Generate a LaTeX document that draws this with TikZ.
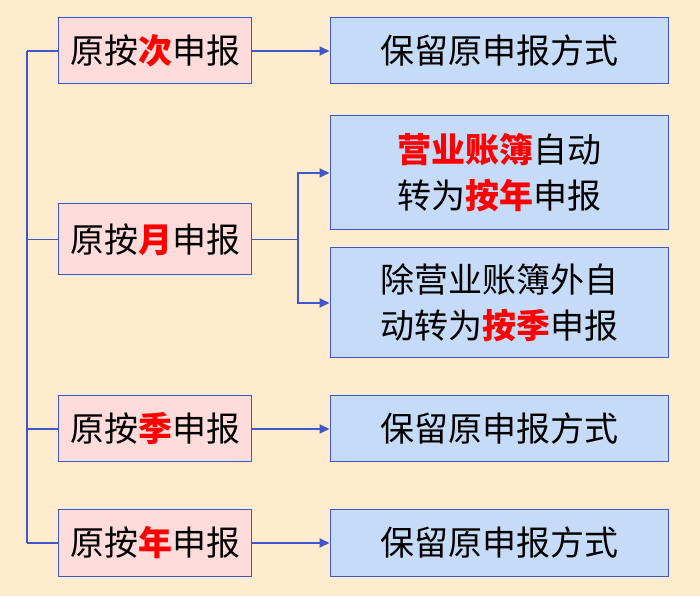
\documentclass[tikz,border=0pt]{standalone}
\usepackage{fontspec}
\setmainfont{Noto Sans CJK SC}
\usetikzlibrary{arrows.meta}
\definecolor{bg}{HTML}{FFEBCD}
\definecolor{pinkf}{HTML}{FFDCDC}
\definecolor{bluef}{HTML}{C6DBF8}
\definecolor{lin}{HTML}{3F56CC}
\newcommand{\hl}[1]{{\bfseries\color{red}#1}}
\tikzset{
 lbox/.style={draw=lin,line width=1pt,fill=pinkf,minimum width=193pt,minimum height=66pt,inner sep=0pt,font=\fontsize{34pt}{40pt}\selectfont},
 rbox/.style={draw=lin,line width=1pt,fill=bluef,minimum width=338pt,inner sep=0pt,align=center,font=\fontsize{34pt}{46pt}\selectfont},
 conn/.style={lin,line width=1.8pt},
 arr/.style={conn,-{Triangle[length=10pt,width=9pt]}}
}
\begin{document}
\begin{tikzpicture}[x=1pt,y=1pt]
\fill[bg] (0,0) rectangle (700,596);
\useasboundingbox (0,0) rectangle (700,596);
\node[lbox] (l1) at (155,545) {原按\hl{次}申报};
\node[lbox,minimum height=71pt] (l2) at (155,356.5) {原按\hl{月}申报};
\node[lbox] (l3) at (155,167) {原按\hl{季}申报};
\node[lbox] (l4) at (155,53) {原按\hl{年}申报};
\node[rbox,minimum height=66pt] (r1) at (499,545) {保留原申报方式};
\node[rbox,minimum height=114pt] (r2) at (499,423) {\hl{营业账簿}自动\\转为\hl{按年}申报};
\node[rbox,minimum height=110pt] (r3) at (499,293) {除营业账簿外自\\动转为\hl{按季}申报};
\node[rbox,minimum height=66pt] (r4) at (499,167) {保留原申报方式};
\node[rbox,minimum height=66pt] (r5) at (499,53) {保留原申报方式};
\coordinate (t1) at (27,545);
\coordinate (t4) at (27,53);
\draw[conn] (t1) -- (t4);
\draw[conn] (t1) -- (l1.west);
\draw[conn] (27,356.5) -- (l2.west);
\draw[conn] (27,167) -- (l3.west);
\draw[conn] (t4) -- (l4.west);
\draw[arr] (l1.east) -- (r1.west);
\draw[arr] (l3.east) -- (r4.west);
\draw[arr] (l4.east) -- (r5.west);
\coordinate (b) at (298,356.5);
\draw[conn] (l2.east) -- (b);
\draw[arr] (b) |- (r2.west |- 0,423);
\draw[arr] (b) |- (r3.west |- 0,293);
\end{tikzpicture}
\end{document}
